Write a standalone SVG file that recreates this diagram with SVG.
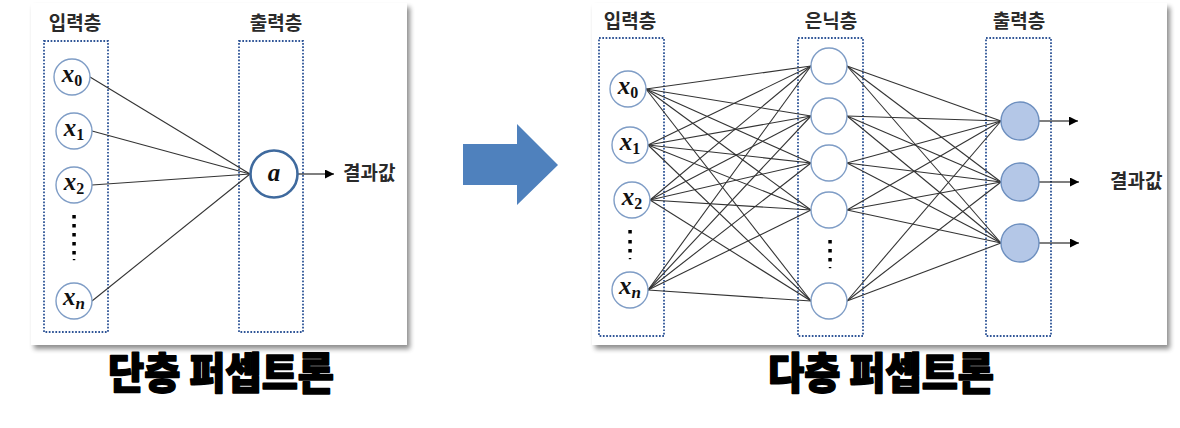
<svg xmlns="http://www.w3.org/2000/svg" width="1180" height="428" viewBox="0 0 1180 428">
<defs>
  <filter id="shadow" x="-5%" y="-5%" width="112%" height="115%">
    <feGaussianBlur in="SourceAlpha" stdDeviation="2.5"/>
    <feOffset dx="3" dy="4" result="b"/>
    <feComponentTransfer><feFuncA type="linear" slope="0.45"/></feComponentTransfer>
    <feMerge><feMergeNode/><feMergeNode in="SourceGraphic"/></feMerge>
  </filter>
  <marker id="arr" viewBox="0 0 10 10" refX="10" refY="5" markerWidth="9" markerHeight="9" markerUnits="userSpaceOnUse" orient="auto">
    <path d="M0,0 L10,5 L0,10 Z" fill="#000"/>
  </marker>
</defs>
<style>
  .panel { fill:#fff; }
  .layer { fill:none; stroke:#2f5597; stroke-width:1.8; stroke-dasharray:1.7 1.6; }
  .lbl { font-family:"Noto Sans CJK KR","Noto Sans",sans-serif; font-size:19px; font-weight:700; fill:#2a2a2a; text-anchor:middle; }
  .res { font-family:"Noto Sans CJK KR","Noto Sans",sans-serif; font-size:19px; font-weight:700; fill:#2a2a2a; }
  .title { font-family:"Noto Sans CJK KR","Noto Sans",sans-serif; font-size:43px; font-weight:900; fill:#000; stroke:#000; stroke-width:1.6; stroke-linejoin:round; text-anchor:middle; }
  .in { fill:#fff; stroke:#7f9dc6; stroke-width:1.4; }
  .out { fill:#b4c7e7; stroke:#6d8fbf; stroke-width:1.4; }
  .act { fill:#fff; stroke:#3f6a9e; stroke-width:2.6; }
  .var { font-family:"Liberation Serif","DejaVu Serif",serif; font-style:italic; font-weight:700; font-size:25px; fill:#111; text-anchor:middle; }
  .sub { font-size:16px; font-style:normal; }
  .subi { font-size:17px; }
  .edge { stroke:#333; stroke-width:1.1; fill:none; }
  .arrow { stroke:#000; stroke-width:1.2; fill:none; marker-end:url(#arr); }
  .dot { fill:#000; }
</style>

<!-- panels -->
<rect class="panel" x="31" y="3" width="376" height="342" filter="url(#shadow)"/>
<rect class="panel" x="592" y="3" width="575" height="342" filter="url(#shadow)"/>

<!-- ===== Left: single layer perceptron ===== -->
<g id="left-input-layer">
  <rect class="layer" x="44" y="41" width="64" height="291"/>
  <text class="lbl" x="75" y="30">입력층</text>
</g>
<g id="left-output-layer">
  <rect class="layer" x="239" y="41" width="64" height="291"/>
  <text class="lbl" x="276" y="30">출력층</text>
</g>

<g id="left-connectors">
  <line class="edge" x1="90" y1="77" x2="250" y2="174"/>
  <line class="edge" x1="92" y1="131" x2="250" y2="174"/>
  <line class="edge" x1="92" y1="185" x2="250" y2="174"/>
  <line class="edge" x1="92" y1="301" x2="250" y2="174"/>
  <line class="arrow" x1="298" y1="174" x2="334" y2="174"/>
</g>

<g id="left-x0"><circle class="in" cx="72" cy="77" r="18"/><text class="var" x="72" y="82">x<tspan class="sub" dy="4">0</tspan></text></g>
<g id="left-x1"><circle class="in" cx="74" cy="131" r="18"/><text class="var" x="74" y="136">x<tspan class="sub" dy="4">1</tspan></text></g>
<g id="left-x2"><circle class="in" cx="74" cy="185" r="18"/><text class="var" x="74" y="190">x<tspan class="sub" dy="4">2</tspan></text></g>
<g id="left-dots">
  <rect class="dot" x="72.3" y="215" width="3.5" height="3.5"/>
  <rect class="dot" x="72.3" y="224" width="3.5" height="3.5"/>
  <rect class="dot" x="72.3" y="233" width="3.5" height="3.5"/>
  <rect class="dot" x="72.3" y="242" width="3.5" height="3.5"/>
  <rect class="dot" x="72.3" y="251" width="3.5" height="3.5"/>
  <rect class="dot" x="72.8" y="259" width="2.5" height="1.2"/>
</g>
<g id="left-xn"><circle class="in" cx="74" cy="301" r="18"/><text class="var" x="74" y="305">x<tspan class="subi" dy="4">n</tspan></text></g>
<g id="left-a"><circle class="act" cx="274" cy="174" r="23.5"/><text class="var" x="274" y="181">a</text></g>
<g id="left-result"><text class="res" x="343" y="180">결과값</text></g>

<g id="title-left"><text class="title" x="221" y="389" textLength="226" lengthAdjust="spacingAndGlyphs">단층 퍼셉트론</text></g>

<!-- big arrow -->
<g id="big-arrow">
  <path d="M463,144 L517,144 L517,124 L558,165 L517,205 L517,185 L463,185 Z" fill="#4f81bd"/>
</g>

<!-- ===== Right: multi layer perceptron ===== -->
<g id="right-input-layer">
  <rect class="layer" x="599" y="38" width="65" height="298"/>
  <text class="lbl" x="630" y="28">입력층</text>
</g>
<g id="right-hidden-layer">
  <rect class="layer" x="798" y="38" width="65" height="298"/>
  <text class="lbl" x="831" y="28">은닉층</text>
</g>
<g id="right-output-layer">
  <rect class="layer" x="986" y="38" width="65" height="298"/>
  <text class="lbl" x="1019" y="28">출력층</text>
</g>

<g id="right-connectors">
  <!-- input -> hidden -->
  <line class="edge" x1="646" y1="89" x2="811" y2="66"/>
  <line class="edge" x1="646" y1="89" x2="811" y2="116"/>
  <line class="edge" x1="646" y1="89" x2="811" y2="163"/>
  <line class="edge" x1="646" y1="89" x2="811" y2="210"/>
  <line class="edge" x1="646" y1="89" x2="811" y2="301"/>
  <line class="edge" x1="648" y1="145" x2="811" y2="66"/>
  <line class="edge" x1="648" y1="145" x2="811" y2="116"/>
  <line class="edge" x1="648" y1="145" x2="811" y2="163"/>
  <line class="edge" x1="648" y1="145" x2="811" y2="210"/>
  <line class="edge" x1="648" y1="145" x2="811" y2="301"/>
  <line class="edge" x1="650" y1="200" x2="811" y2="66"/>
  <line class="edge" x1="650" y1="200" x2="811" y2="116"/>
  <line class="edge" x1="650" y1="200" x2="811" y2="163"/>
  <line class="edge" x1="650" y1="200" x2="811" y2="210"/>
  <line class="edge" x1="650" y1="200" x2="811" y2="301"/>
  <line class="edge" x1="648" y1="290" x2="811" y2="66"/>
  <line class="edge" x1="648" y1="290" x2="811" y2="116"/>
  <line class="edge" x1="648" y1="290" x2="811" y2="163"/>
  <line class="edge" x1="648" y1="290" x2="811" y2="210"/>
  <line class="edge" x1="648" y1="290" x2="811" y2="301"/>
  <!-- hidden -> output -->
  <line class="edge" x1="847" y1="66" x2="1001" y2="121"/>
  <line class="edge" x1="847" y1="66" x2="1001" y2="182"/>
  <line class="edge" x1="847" y1="66" x2="1001" y2="243"/>
  <line class="edge" x1="847" y1="116" x2="1001" y2="121"/>
  <line class="edge" x1="847" y1="116" x2="1001" y2="182"/>
  <line class="edge" x1="847" y1="116" x2="1001" y2="243"/>
  <line class="edge" x1="847" y1="163" x2="1001" y2="121"/>
  <line class="edge" x1="847" y1="163" x2="1001" y2="182"/>
  <line class="edge" x1="847" y1="163" x2="1001" y2="243"/>
  <line class="edge" x1="847" y1="210" x2="1001" y2="121"/>
  <line class="edge" x1="847" y1="210" x2="1001" y2="182"/>
  <line class="edge" x1="847" y1="210" x2="1001" y2="243"/>
  <line class="edge" x1="847" y1="301" x2="1001" y2="121"/>
  <line class="edge" x1="847" y1="301" x2="1001" y2="182"/>
  <line class="edge" x1="847" y1="301" x2="1001" y2="243"/>
  <!-- outputs -->
  <line class="arrow" x1="1039" y1="121" x2="1078" y2="121"/>
  <line class="arrow" x1="1039" y1="182" x2="1079" y2="182"/>
  <line class="arrow" x1="1039" y1="243" x2="1079" y2="243"/>
</g>

<g id="right-x0"><circle class="in" cx="628" cy="89" r="18"/><text class="var" x="628" y="94">x<tspan class="sub" dy="4">0</tspan></text></g>
<g id="right-x1"><circle class="in" cx="630" cy="145" r="18"/><text class="var" x="630" y="150">x<tspan class="sub" dy="4">1</tspan></text></g>
<g id="right-x2"><circle class="in" cx="632" cy="200" r="18"/><text class="var" x="632" y="205">x<tspan class="sub" dy="4">2</tspan></text></g>
<g id="right-input-dots">
  <rect class="dot" x="628.3" y="230" width="3.5" height="3.5"/>
  <rect class="dot" x="628.3" y="240" width="3.5" height="3.5"/>
  <rect class="dot" x="628.3" y="249" width="3.5" height="3.5"/>
  <rect class="dot" x="628.8" y="258" width="2.5" height="1.2"/>
</g>
<g id="right-xn"><circle class="in" cx="630" cy="290" r="18"/><text class="var" x="630" y="294">x<tspan class="subi" dy="4">n</tspan></text></g>

<g id="hidden-1"><circle class="in" cx="829" cy="66" r="18"/></g>
<g id="hidden-2"><circle class="in" cx="829" cy="116" r="18"/></g>
<g id="hidden-3"><circle class="in" cx="829" cy="163" r="18"/></g>
<g id="hidden-4"><circle class="in" cx="829" cy="210" r="18"/></g>
<g id="hidden-dots">
  <rect class="dot" x="828.3" y="240" width="3.5" height="3.5"/>
  <rect class="dot" x="828.3" y="249" width="3.5" height="3.5"/>
  <rect class="dot" x="828.3" y="258" width="3.5" height="3.5"/>
  <rect class="dot" x="828.8" y="267" width="2.5" height="1.2"/>
</g>
<g id="hidden-n"><circle class="in" cx="829" cy="301" r="18"/></g>

<g id="output-1"><circle class="out" cx="1020" cy="121" r="19"/></g>
<g id="output-2"><circle class="out" cx="1020" cy="182" r="19"/></g>
<g id="output-3"><circle class="out" cx="1020" cy="243" r="19"/></g>
<g id="right-result"><text class="res" x="1110" y="188">결과값</text></g>

<g id="title-right"><text class="title" x="881" y="389" textLength="226" lengthAdjust="spacingAndGlyphs">다층 퍼셉트론</text></g>
</svg>
